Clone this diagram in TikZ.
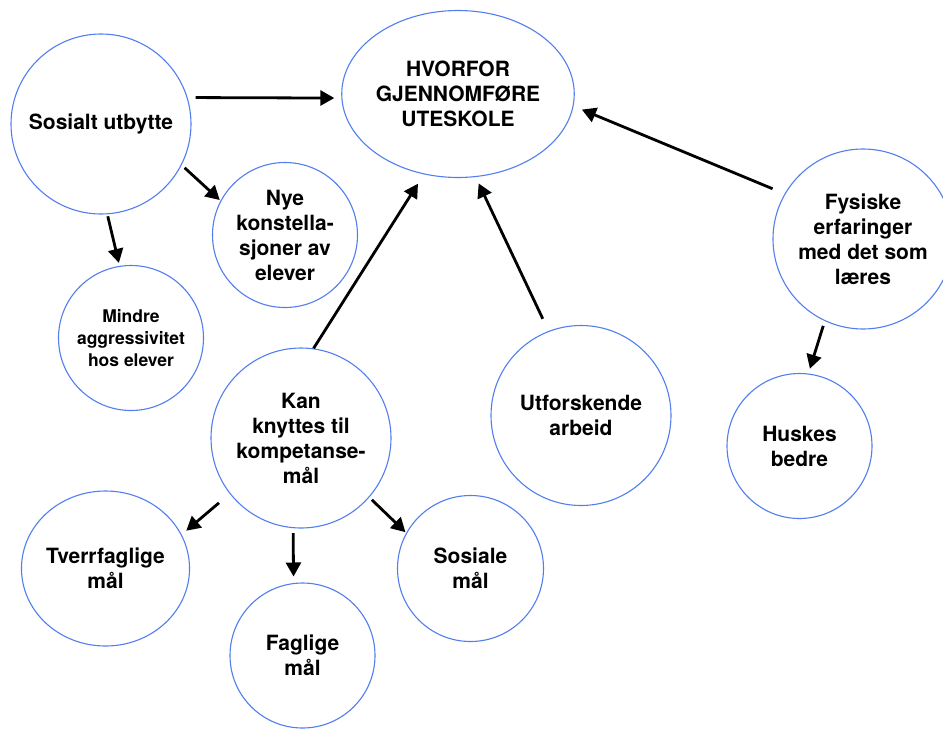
\documentclass[tikz,border=0pt]{standalone}
\usepackage{fontspec}
\setmainfont{TeX Gyre Heros}
\usetikzlibrary{arrows.meta,shapes.geometric}
\definecolor{ringblue}{RGB}{82,126,240}
\newcommand{\bubblefont}{\bfseries\fontsize{21}{25}\selectfont}
\newcommand{\smallbubblefont}{\bfseries\fontsize{17.5}{21.7}\selectfont}
\tikzset{
  bubble/.style={circle, draw=ringblue, line width=1.1pt, inner sep=0pt,
    align=center, text=black, font=\bubblefont},
  oval/.style={ellipse, draw=ringblue, line width=1.1pt, inner sep=0pt,
    align=center, text=black, font=\bubblefont},
  link/.style={line width=2.8pt, -{Triangle[length=14pt,width=15pt]}}
}
\begin{document}
\begin{tikzpicture}[x=1pt,y=-1pt]
\useasboundingbox (0,0) rectangle (943,729);
\clip (0,0) rectangle (943,729);
\fill[white] (0,0) rectangle (943,729);

% central question
\node[oval, minimum width=222pt, minimum height=167pt] (hv) at (458,94)
  {HVORFOR\\GJENNOMFØRE\\UTESKOLE};

% surrounding ideas
\node[bubble, minimum size=180pt] (sos) at (101,124) {Sosialt utbytte};
\node[bubble, minimum size=145pt] (nye) at (285,235) {Nye\\konstella-\\sjoner av\\elever};
\node[bubble, minimum size=145pt, font=\smallbubblefont] (min) at (131,338)
  {Mindre\\aggressivitet\\hos elever};
\node[bubble, minimum size=180pt] (kan) at (301,438) {Kan\\knyttes til\\kompetanse-\\mål};
\node[oval, minimum width=163pt, minimum height=155pt] (tve) at (105.5,568.5) {Tverrfaglige\\mål};
\node[bubble, minimum size=145pt] (fag) at (302.5,655.5) {Faglige\\mål};
\node[bubble, minimum size=146pt] (som) at (470.5,568.5) {Sosiale\\mål};
\node[bubble, minimum size=180pt] (utf) at (581,415.5) {Utforskende\\arbeid};
\node[bubble, minimum size=180pt] (fys) at (863,239) {Fysiske\\erfaringer\\med det som\\læres};
\node[bubble, minimum size=145pt] (hus) at (799.5,446) {Huskes\\bedre};

% connectors
\draw[link, shorten <=8pt, shorten >=7pt] (sos.17) -- (hv.182);
\draw[link, shorten <=4pt, shorten >=1pt] (sos.-27) -- (nye.152);
\draw[link, shorten <=2pt, shorten >=3pt] (sos.-86) -- (min.99);
\draw[link, shorten >=11pt] (kan.82) -- (hv.-113.5);
\draw[link, shorten <=13.5pt, shorten >=7pt] (utf.111.5) -- (hv.-78);
\draw[link, shorten <=13pt, shorten >=9pt] (fys.150.5) -- (hv.-6.5);
\draw[link, shorten <=5pt, shorten >=5pt] (fys.-115.5) -- (hus.83.7);
\draw[link, shorten <=14pt, shorten >=6pt] (kan.-142.8) -- (tve.24);
\draw[link, shorten <=5pt, shorten >=6.5pt] (kan.-95.4) -- (fag.97.6);
\draw[link, shorten <=3.5pt, shorten >=1pt] (kan.-41.5) -- (som.151.9);
\end{tikzpicture}
\end{document}
